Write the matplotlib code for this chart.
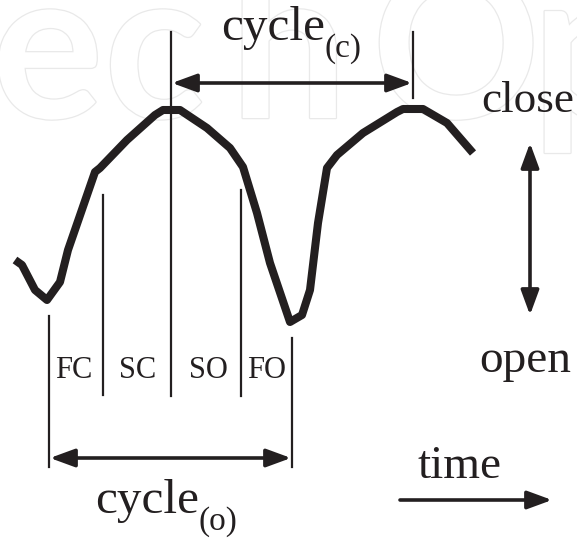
import matplotlib
matplotlib.use("Agg")
import matplotlib.pyplot as plt
import matplotlib.patheffects as pe

# valve position trace (picture pixel coords, y grows downward)
curve_x = [15, 22, 35, 47, 60, 68, 95, 100, 127, 155, 163, 180, 207, 230, 243,
           257, 270, 290, 302, 310, 318, 327, 337, 363, 397, 403, 423, 447, 473]
curve_y = [260, 265, 290, 300, 282, 250, 172, 168, 140, 115, 110, 110, 128, 148, 167,
           213, 263, 322, 315, 290, 223, 168, 155, 133, 112, 109, 109, 123, 153]

# phase boundary markers
mark_x = [49, 103, 171, 241, 292, 413]
mark_top = [316, 195, 32, 190, 338, 32]
mark_bot = [467, 395, 396, 396, 467, 98]

phase_labels = ["FC", "SC", "SO", "FO"]
phase_x = [74, 138, 208, 267]

# faint watermark letters
wm_letters = ["e", "c", "h", "O", "p"]
wm_x = [-8, 104, 230, 372, 532]

ink = "#231f20"
serif = "Liberation Serif"

fig = plt.figure(figsize=(5.77, 5.38), dpi=100)
ax = fig.add_axes([0, 0, 1, 1])
ax.set_xlim(0, 577)
ax.set_ylim(538, 0)
ax.axis("off")

for ch, x in zip(wm_letters, wm_x):
    ax.text(x, 118, ch, fontsize=150, family="Lato", fontweight="bold",
            color="white", zorder=0, va="baseline", ha="left",
            path_effects=[pe.withStroke(linewidth=1.8, foreground="#e9e9e9")])

ax.plot(curve_x, curve_y, color=ink, lw=5.8, solid_joinstyle="round",
        solid_capstyle="butt", zorder=3)

for x, t, b in zip(mark_x, mark_top, mark_bot):
    ax.plot([x, x], [t, b], color=ink, lw=1.6, zorder=2)


def arrow(x0, y0, x1, y1, style="<|-|>"):
    ax.annotate("", xy=(x1, y1), xytext=(x0, y0),
                arrowprops=dict(arrowstyle=style + ",head_length=1.5,head_width=0.55",
                                mutation_scale=10, lw=2.6, color=ink,
                                shrinkA=0, shrinkB=0), zorder=4)


arrow(172, 83, 412, 83)
arrow(50, 458, 291, 458)
arrow(530, 143, 530, 315)
arrow(400, 500, 552, 500, style="-|>")

for lab, x in zip(phase_labels, phase_x):
    ax.text(x, 378, lab, fontsize=22, family=serif, color=ink,
            ha="center", va="baseline")

ax.text(221, 40, "cycle", fontsize=35.5, family=serif, color=ink, va="baseline")
ax.text(325, 57, "(c)", fontsize=24, family=serif, color=ink, va="baseline")
ax.text(95, 513, "cycle", fontsize=35.5, family=serif, color=ink, va="baseline")
ax.text(199, 530, "(o)", fontsize=24, family=serif, color=ink, va="baseline")
ax.text(481, 112, "close", fontsize=32.5, family=serif, color=ink, va="baseline")
ax.text(479, 372, "open", fontsize=34, family=serif, color=ink, va="baseline")
ax.text(417, 478, "time", fontsize=34, family=serif, color=ink, va="baseline")

fig.savefig("out.png", dpi=100)
